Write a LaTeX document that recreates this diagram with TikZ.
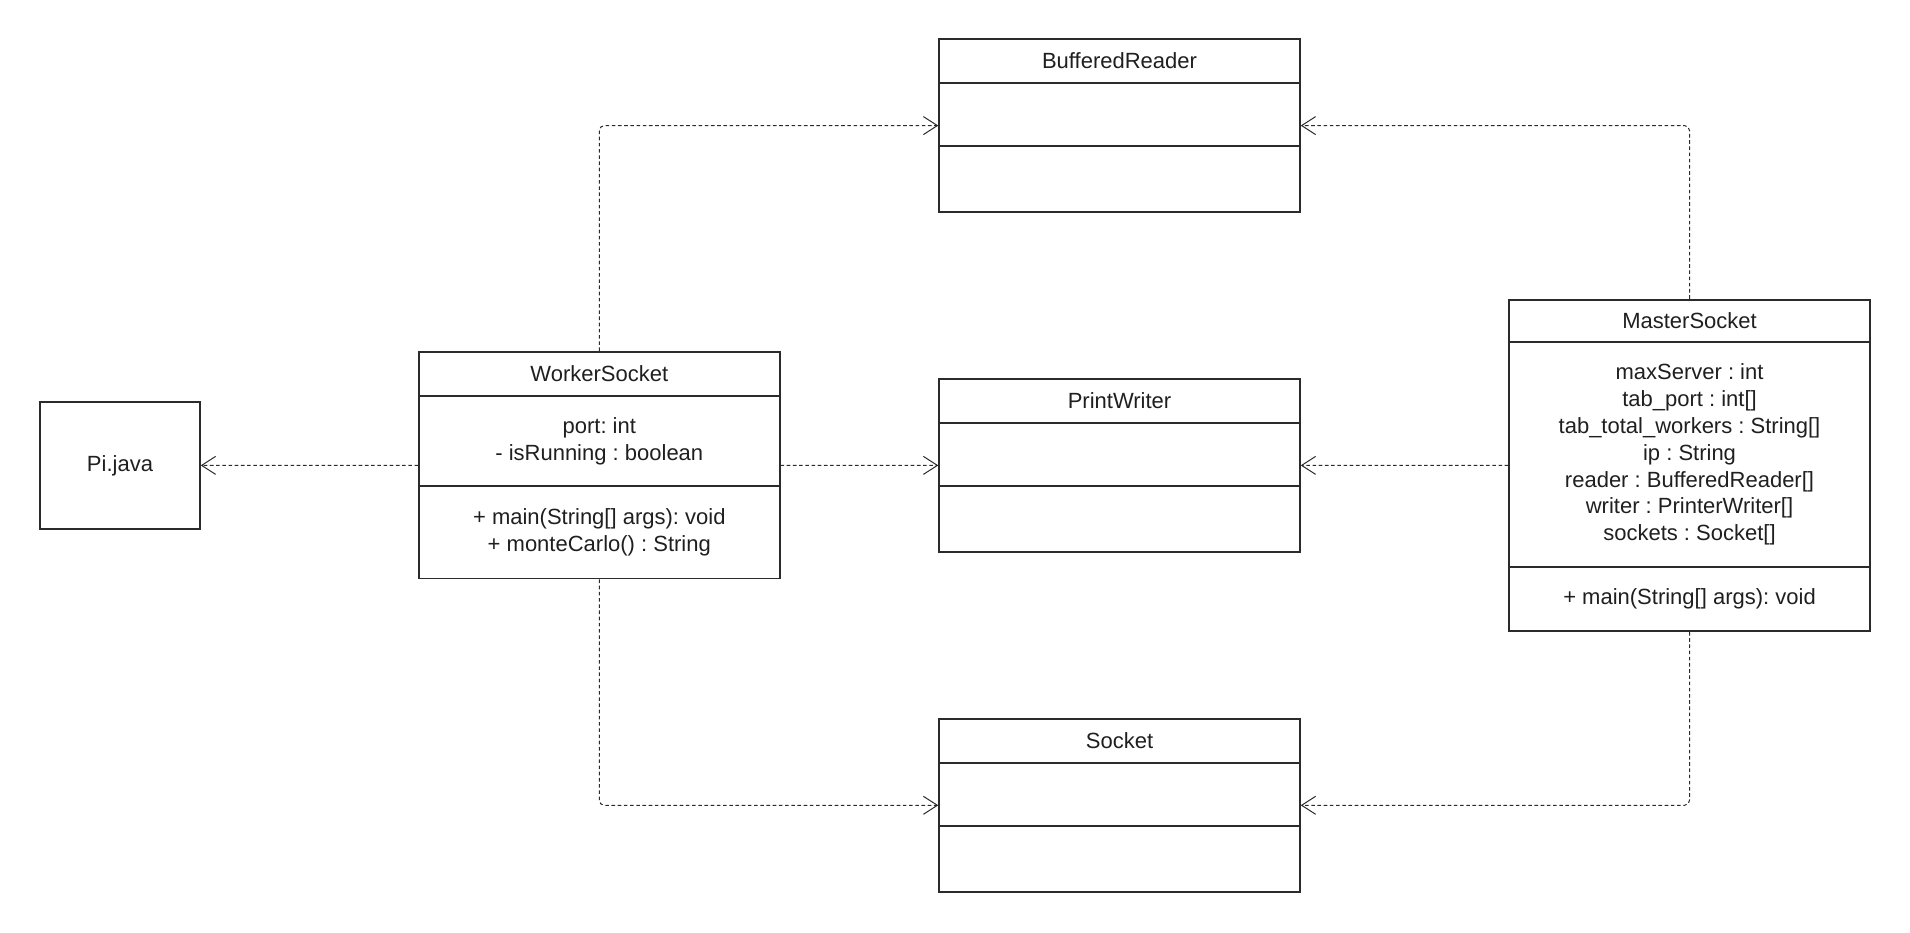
\documentclass[tikz,border=0pt]{standalone}
\usepackage{fontspec}
\setmainfont{Liberation Sans}
\frenchspacing
\usetikzlibrary{positioning,fit,arrows.meta}
\definecolor{umlline}{HTML}{2B2B2B}
\definecolor{umltext}{HTML}{1F1F1F}

\begin{document}
\begin{tikzpicture}[
		x=1pt, y=1pt,
		font=\fontsize{11}{13.4}\selectfont,
		text=umltext,
		classhead/.style={draw=umlline,line width=0.9pt,minimum width=180.3pt,minimum height=22pt,inner sep=0pt,outer sep=0pt},
		classpart/.style={draw=umlline,line width=0.9pt,minimum width=180.3pt,inner sep=0pt,outer sep=0pt,align=center},
		classbox/.style={inner sep=0pt,outer sep=0.45pt},
		dep/.style={draw=umlline,line width=0.5pt,dash pattern=on 1.8pt off 1.3pt,rounded corners=2.5pt,-{Straight Barb[length=7pt,width=9pt]}}
		]
		\useasboundingbox (0,0) rectangle (955,466);
		
		% plain file
		\node[draw=umlline,line width=0.9pt,minimum width=79.8pt,minimum height=63.35pt] (pi) at (60,233.3) {Pi.java};
		
		% WorkerSocket
		\node[classhead,anchor=north] (wsh) at (299.65,290) {WorkerSocket};
		\node[classpart,below=0pt of wsh,minimum height=45pt] (wsa) {port: int\\- isRunning : boolean};
		\node[classpart,below=0pt of wsa,minimum height=46.3pt] (wsm) {+ main(String[] args): void\\+ monteCarlo() : String};
		\node[classbox,fit=(wsh)(wsm)] (ws) {};
		
		% library classes
		\node[classhead,anchor=north] (brh) at (559.75,446.5) {BufferedReader};
		\node[classpart,below=0pt of brh,minimum height=31.7pt] (bra) {};
		\node[classpart,below=0pt of bra,minimum height=32.9pt] (brm) {};
		\node[classbox,fit=(brh)(brm)] (br) {};
		
		\node[classhead,anchor=north] (pwh) at (559.75,276.6) {PrintWriter};
		\node[classpart,below=0pt of pwh,minimum height=31.7pt] (pwa) {};
		\node[classpart,below=0pt of pwa,minimum height=32.9pt] (pwm) {};
		\node[classbox,fit=(pwh)(pwm)] (pw) {};
		
		\node[classhead,anchor=north] (skh) at (559.75,106.65) {Socket};
		\node[classpart,below=0pt of skh,minimum height=31.7pt] (ska) {};
		\node[classpart,below=0pt of ska,minimum height=32.9pt] (skm) {};
		\node[classbox,fit=(skh)(skm)] (sk) {};
		
		% MasterSocket
		\node[classhead,anchor=north,minimum height=21.3pt] (msh) at (844.75,316.15) {MasterSocket};
		\node[classpart,below=0pt of msh,minimum height=112.3pt] (msa) {maxServer : int\\tab\_port : int[]\\tab\_total\_workers : String[]\\ip : String\\reader : BufferedReader[]\\writer : PrinterWriter[]\\sockets : Socket[]};
		\node[classpart,below=0pt of msa,minimum height=32.1pt] (msm) {+ main(String[] args): void};
		\node[classbox,fit=(msh)(msm)] (ms) {};
		
		% dependencies
		\draw[dep] (ws.west) -- (pi.east);
		\draw[dep] (ws.east) -- (pw.west);
		\draw[dep] (ws.north) |- (br.west);
		\draw[dep] (ws.south) |- (sk.west);
		\draw[dep] (ms.west) -- (pw.east);
		\draw[dep] (ms.north) |- (br.east);
		\draw[dep] (ms.south) |- (sk.east);
	\end{tikzpicture}
\end{document}
